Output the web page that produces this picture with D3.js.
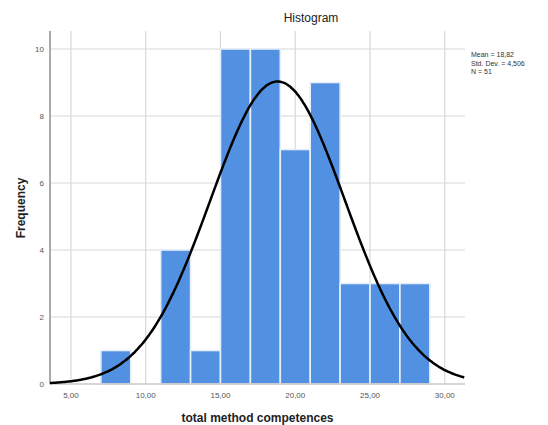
<!DOCTYPE html>
<html><head><meta charset="utf-8">
<script src="https://cdn.jsdelivr.net/npm/d3@7"></script>
<style>body{margin:0;background:#fff}svg{display:block;font-family:"Liberation Sans",Arial,sans-serif}</style>
</head><body><svg id="c" width="548" height="425"></svg>
<script>
const binStarts = [7, 9, 11, 13, 15, 17, 19, 21, 23, 25, 27];
const binCounts = [1, 0, 4, 1, 10, 10, 7, 9, 3, 3, 3];
const binWidth = 2;
const xTicks = [5, 10, 15, 20, 25, 30];
const yTicks = [0, 2, 4, 6, 8, 10];
const stats = {mean: 18.82, sd: 4.506, n: 51};
const legendLines = ["Mean = 18,82", "Std. Dev. = 4,506", "N = 51"];

const svg = d3.select("#c");
const L = 50, R = 465, T = 31, B = 384;
const x = d3.scaleLinear().domain([3.6, 31.35]).range([L, R]);
const y = d3.scaleLinear().domain([0, 10.5]).range([B, B - 10.5 * 33.5]);

// grid
svg.append("g").selectAll("line").data(xTicks).join("line")
  .attr("x1", d => x(d)).attr("x2", d => x(d)).attr("y1", T).attr("y2", B)
  .attr("stroke", "#d8d8d8").attr("stroke-width", 1.2);
svg.append("g").selectAll("line").data(yTicks.filter(d => d > 0)).join("line")
  .attr("x1", L).attr("x2", R).attr("y1", d => y(d)).attr("y2", d => y(d))
  .attr("stroke", "#d8d8d8").attr("stroke-width", 1.2);

// bars
svg.append("g").selectAll("rect").data(binStarts.map((s, i) => ({s, c: binCounts[i]})).filter(d => d.c > 0)).join("rect")
  .attr("x", d => x(d.s)).attr("width", d => x(d.s + binWidth) - x(d.s))
  .attr("y", d => y(d.c)).attr("height", d => y(0) - y(d.c))
  .attr("fill", "#5291e2").attr("stroke", "#e6eefa").attr("stroke-width", 1.6);

// axes
svg.append("line").attr("x1", L).attr("x2", R).attr("y1", B).attr("y2", B).attr("stroke", "#c8c8c8").attr("stroke-width", 1.5);
svg.append("line").attr("x1", L).attr("x2", L).attr("y1", T).attr("y2", B).attr("stroke", "#aaa").attr("stroke-width", 2);

// normal curve
const xs = d3.range(3.6, 31.36, 0.1);
const pdf = v => stats.n * binWidth / (stats.sd * Math.sqrt(2 * Math.PI)) * Math.exp(-0.5 * ((v - stats.mean) / stats.sd) ** 2);
svg.append("path").datum(xs).attr("fill", "none").attr("stroke", "#000").attr("stroke-width", 2.5)
  .attr("d", d3.line().x(d => x(d)).y(d => y(pdf(d))).curve(d3.curveBasis));

// tick labels
svg.append("g").selectAll("text").data(xTicks).join("text")
  .attr("x", d => x(d)).attr("y", 398).attr("text-anchor", "middle")
  .attr("font-size", 8).attr("fill", "#555").text(d => d.toFixed(2).replace(".", ","));
svg.append("g").selectAll("text").data(yTicks).join("text")
  .attr("x", 44).attr("y", d => y(d) + 3).attr("text-anchor", "end")
  .attr("font-size", 8).attr("fill", "#555").text(d => d);

// titles
svg.append("text").attr("x", 311).attr("y", 22).attr("text-anchor", "middle")
  .attr("font-size", 12).attr("fill", "#222").text("Histogram");
svg.append("text").attr("x", (L + R) / 2).attr("y", 422).attr("text-anchor", "middle")
  .attr("font-size", 12).attr("font-weight", "bold").attr("fill", "#222").text("total method competences");
svg.append("text").attr("transform", "translate(25,208) rotate(-90)").attr("text-anchor", "middle")
  .attr("font-size", 12).attr("font-weight", "bold").attr("fill", "#222").text("Frequency");

// legend
svg.append("g").selectAll("text").data(legendLines).join("text")
  .attr("x", 471).attr("y", (d, i) => 57 + i * 8.5)
  .attr("font-size", 7).attr("fill", "#333").text(d => d);
</script></body></html>
